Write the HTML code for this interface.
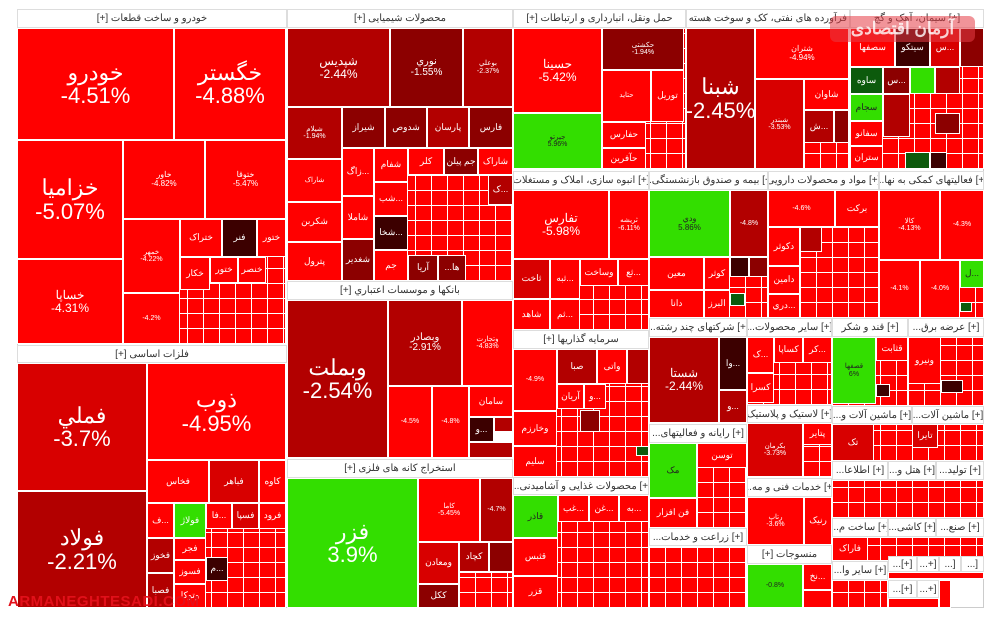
<!DOCTYPE html>
<html><head><meta charset="utf-8">
<style>
html,body{margin:0;padding:0;background:#fff;width:1000px;height:619px;overflow:hidden;position:relative;font-family:"Liberation Sans","Noto Sans CJK SC",sans-serif}
.b{position:absolute;box-sizing:border-box;border:1px solid #fff;overflow:hidden;color:#fff;display:flex;flex-direction:column;align-items:center;justify-content:center;text-align:center;line-height:1.05;background:#f00;font-size:9px;direction:ltr}
.h{position:absolute;box-sizing:border-box;background:#fff;color:#333;font-size:10px;display:flex;align-items:center;justify-content:center;white-space:nowrap;overflow:hidden;border:1px solid #ddd;direction:rtl}
.g{position:absolute;box-sizing:border-box;background-color:#f00;background-image:repeating-linear-gradient(90deg,transparent 0 15px,#fff 15px 16px),repeating-linear-gradient(0deg,transparent 0 14px,#fff 14px 15px);border:1px solid #fff}
.r2{background:#d80000}.r3{background:#b20000}.r4{background:#8c0000}.r5{background:#3c0000}.gr{background:#33de00;color:#222}.dg{background:#0c5a0c}
.L{font-size:22px}.M{font-size:12px}.S{font-size:7px}
</style></head><body>
<div style="position:absolute;left:17px;top:9px;width:967px;height:599px;border:1px solid #ccc;box-sizing:border-box"></div>

<!-- Column 1 -->
<div class="h" style="left:17px;top:9px;width:270px;height:19px">خودرو و ساخت قطعات [+]</div>
<div class="b L" style="left:17px;top:28px;width:157px;height:112px">خودرو<br>-4.51%</div>
<div class="b L" style="left:174px;top:28px;width:112px;height:112px">خگستر<br>-4.88%</div>
<div class="b L" style="left:17px;top:140px;width:106px;height:119px">خزامیا<br>-5.07%</div>
<div class="b M" style="left:17px;top:259px;width:106px;height:85px">خساپا<br>-4.31%</div>
<div class="b S" style="left:123px;top:140px;width:82px;height:79px;font-size:8px">خاور<br>-4.82%</div>
<div class="b S" style="left:205px;top:140px;width:81px;height:79px;font-size:8px">ختوقا<br>-5.47%</div>
<div class="g" style="left:123px;top:219px;width:163px;height:125px"></div>
<div class="b S" style="left:123px;top:219px;width:57px;height:74px">خمهر<br>-4.22%</div>
<div class="b S" style="left:123px;top:293px;width:57px;height:51px">-4.2%</div>
<div class="b" style="left:180px;top:219px;width:42px;height:38px">ختراک</div>
<div class="b r5" style="left:222px;top:219px;width:35px;height:38px">فنر</div>
<div class="b" style="left:257px;top:219px;width:29px;height:38px">ختور</div>
<div class="b" style="left:180px;top:257px;width:30px;height:33px">خکار</div>
<div class="b" style="left:210px;top:257px;width:28px;height:26px">ختور</div>
<div class="b" style="left:238px;top:257px;width:28px;height:26px">خنصر</div>

<div class="h" style="left:17px;top:345px;width:270px;height:18px">فلزات اساسی [+]</div>
<div class="b L r2" style="left:17px;top:363px;width:130px;height:128px">فملي<br>-3.7%</div>
<div class="b L r3" style="left:17px;top:491px;width:130px;height:117px">فولاد<br>-2.21%</div>
<div class="b L" style="left:147px;top:363px;width:139px;height:97px">ذوب<br>-4.95%</div>
<div class="g" style="left:147px;top:460px;width:139px;height:148px"></div>
<div class="b" style="left:147px;top:460px;width:62px;height:43px">فخاس</div>
<div class="b r2" style="left:209px;top:460px;width:50px;height:43px">فباهر</div>
<div class="b" style="left:259px;top:460px;width:27px;height:43px">کاوه</div>
<div class="b" style="left:147px;top:503px;width:27px;height:35px">ف...</div>
<div class="b gr" style="left:174px;top:503px;width:32px;height:35px;color:#fff">فولاژ</div>
<div class="b" style="left:206px;top:503px;width:26px;height:26px">فا...</div>
<div class="b r2" style="left:232px;top:503px;width:27px;height:26px">فسپا</div>
<div class="b" style="left:259px;top:503px;width:27px;height:26px">فرود</div>
<div class="b r3" style="left:147px;top:538px;width:27px;height:35px">فخوز</div>
<div class="b r3" style="left:147px;top:573px;width:27px;height:35px">فصبا</div>
<div class="b" style="left:174px;top:538px;width:32px;height:22px">فجر</div>
<div class="b" style="left:174px;top:560px;width:32px;height:24px">فسوز</div>
<div class="b" style="left:174px;top:584px;width:32px;height:24px">وتوکا</div>
<div class="b r5" style="left:206px;top:557px;width:22px;height:24px">م...</div>

<!-- Column 2 -->
<div class="h" style="left:287px;top:9px;width:226px;height:19px">محصولات شیمیایی [+]</div>
<div class="g" style="left:287px;top:28px;width:226px;height:253px"></div>
<div class="b M r3" style="left:287px;top:28px;width:103px;height:79px">شپدیس<br>-2.44%</div>
<div class="b r4" style="left:390px;top:28px;width:73px;height:79px;font-size:10px">نوري<br>-1.55%</div>
<div class="b S r3" style="left:463px;top:28px;width:50px;height:79px">بوعلي<br>-2.37%</div>
<div class="b S r3" style="left:287px;top:107px;width:55px;height:52px">شیلام<br>-1.94%</div>
<div class="b r4" style="left:342px;top:107px;width:43px;height:41px">شیراز</div>
<div class="b r4" style="left:385px;top:107px;width:42px;height:41px">شدوص</div>
<div class="b r3" style="left:427px;top:107px;width:42px;height:41px">پارسان</div>
<div class="b r4" style="left:469px;top:107px;width:44px;height:41px">فارس</div>
<div class="b S" style="left:287px;top:159px;width:55px;height:43px">شاراک</div>
<div class="b" style="left:287px;top:202px;width:55px;height:40px">شکربن</div>
<div class="b" style="left:287px;top:242px;width:55px;height:39px">پترول</div>
<div class="b" style="left:342px;top:148px;width:32px;height:48px">زاگ...</div>
<div class="b" style="left:342px;top:196px;width:32px;height:43px">شاملا</div>
<div class="b r4" style="left:342px;top:239px;width:32px;height:42px">شغدیر</div>
<div class="b" style="left:374px;top:148px;width:34px;height:34px">شفام</div>
<div class="b" style="left:374px;top:182px;width:34px;height:34px">شب...</div>
<div class="b r5" style="left:374px;top:216px;width:34px;height:34px">شخا...</div>
<div class="b" style="left:374px;top:250px;width:34px;height:31px">جم</div>
<div class="b" style="left:408px;top:148px;width:36px;height:27px">کلر</div>
<div class="b r4" style="left:444px;top:148px;width:34px;height:27px">جم پیلن</div>
<div class="b" style="left:478px;top:148px;width:35px;height:27px">شاراک</div>
<div class="b r4" style="left:408px;top:255px;width:30px;height:26px">آریا</div>
<div class="b r4" style="left:438px;top:255px;width:28px;height:26px">...ها</div>
<div class="b r3" style="left:488px;top:175px;width:25px;height:30px">ک...</div>

<div class="h" style="left:287px;top:281px;width:226px;height:19px">بانکها و موسسات اعتباري [+]</div>
<div class="b L r3" style="left:287px;top:300px;width:101px;height:158px">وبملت<br>-2.54%</div>
<div class="b r3" style="left:388px;top:300px;width:74px;height:86px;font-size:10px">وبصادر<br>-2.91%</div>
<div class="b S" style="left:462px;top:300px;width:51px;height:86px">وتجارت<br>-4.83%</div>
<div class="b S" style="left:388px;top:386px;width:44px;height:72px">-4.5%</div>
<div class="b S" style="left:432px;top:386px;width:37px;height:72px">-4.8%</div>
<div class="b" style="left:469px;top:386px;width:44px;height:31px">سامان</div>
<div class="b r5" style="left:469px;top:417px;width:25px;height:25px">و...</div>
<div class="b r3" style="left:494px;top:417px;width:19px;height:15px"></div>
<div class="b r3" style="left:469px;top:442px;width:44px;height:16px"></div>

<div class="h" style="left:287px;top:459px;width:226px;height:19px">استخراج کانه های فلزی [+]</div>
<div class="b L gr" style="left:287px;top:478px;width:131px;height:130px;color:#fff">فزر<br>3.9%</div>
<div class="b S" style="left:418px;top:478px;width:62px;height:64px">کاما<br>-5.45%</div>
<div class="b S r3" style="left:480px;top:478px;width:33px;height:64px">-4.7%</div>
<div class="b r2" style="left:418px;top:542px;width:41px;height:42px">ومعادن</div>
<div class="b r4" style="left:418px;top:584px;width:41px;height:24px">ککل</div>
<div class="b r3" style="left:459px;top:542px;width:30px;height:30px">کچاد</div>
<div class="b r4" style="left:489px;top:542px;width:24px;height:30px"></div>
<div class="g" style="left:459px;top:572px;width:54px;height:36px"></div>

<!-- Column 3 top -->
<div class="h" style="left:513px;top:9px;width:173px;height:19px">حمل ونقل، انبارداری و ارتباطات [+]</div>
<div class="h" style="left:686px;top:9px;width:164px;height:19px">[+] فرآورده های نفتی، کک و سوخت هسته ا...</div>
<div class="h" style="left:850px;top:9px;width:134px;height:19px">[+] سیمان، آهک و گچ</div>
<div class="b M" style="left:513px;top:28px;width:89px;height:85px">حسينا<br>-5.42%</div>
<div class="b S gr" style="left:513px;top:113px;width:89px;height:56px">جیرتو<br>5.96%</div>
<div class="g" style="left:602px;top:28px;width:84px;height:141px"></div>
<div class="b S r4" style="left:602px;top:28px;width:82px;height:42px">حکشتی<br>-1.94%</div>
<div class="b S" style="left:602px;top:70px;width:49px;height:52px">حتاید</div>
<div class="b" style="left:651px;top:70px;width:33px;height:52px">توریل</div>
<div class="b" style="left:602px;top:122px;width:44px;height:26px">حفارس</div>
<div class="b" style="left:602px;top:148px;width:44px;height:21px">حآفرین</div>
<div class="b L r3" style="left:686px;top:28px;width:69px;height:141px">شبنا<br>-2.45%</div>
<div class="b S" style="left:755px;top:28px;width:94px;height:51px;font-size:8px">شتران<br>-4.94%</div>
<div class="b S r2" style="left:755px;top:79px;width:49px;height:90px">شبندر<br>-3.53%</div>
<div class="g" style="left:804px;top:79px;width:45px;height:90px"></div>
<div class="b" style="left:804px;top:79px;width:45px;height:31px">شاوان</div>
<div class="b r3" style="left:804px;top:110px;width:30px;height:33px">ش...</div>
<div class="b r4" style="left:834px;top:110px;width:15px;height:33px"></div>
<!-- cement -->
<div class="g" style="left:850px;top:28px;width:134px;height:141px"></div>
<div class="b" style="left:850px;top:28px;width:45px;height:39px">سصفها</div>
<div class="b r5" style="left:895px;top:28px;width:35px;height:39px">سیتکو</div>
<div class="b r2" style="left:930px;top:28px;width:30px;height:39px">س...</div>
<div class="b r4" style="left:960px;top:28px;width:24px;height:39px"></div>
<div class="b dg" style="left:850px;top:67px;width:33px;height:27px">ساوه</div>
<div class="b r4" style="left:883px;top:67px;width:27px;height:27px">س...</div>
<div class="b gr" style="left:910px;top:67px;width:25px;height:27px"></div>
<div class="b r3" style="left:935px;top:67px;width:25px;height:27px"></div>
<div class="b gr" style="left:850px;top:94px;width:33px;height:27px;color:#222">سجام</div>
<div class="b r3" style="left:883px;top:94px;width:27px;height:43px"></div>
<div class="b" style="left:850px;top:121px;width:33px;height:25px">سفانو</div>
<div class="b" style="left:850px;top:146px;width:33px;height:23px">ستران</div>
<div class="b r4" style="left:935px;top:113px;width:25px;height:21px"></div>
<div class="b dg" style="left:905px;top:152px;width:25px;height:17px"></div>
<div class="b r5" style="left:930px;top:152px;width:17px;height:17px"></div>

<!-- row 2 -->
<div class="h" style="left:513px;top:171px;width:136px;height:19px">[+] انبوه سازی، املاک و مستغلات</div>
<div class="h" style="left:649px;top:171px;width:119px;height:19px">[+] بیمه و صندوق بازنشستگی...</div>
<div class="h" style="left:768px;top:171px;width:111px;height:19px">[+] مواد و محصولات دارویی</div>
<div class="h" style="left:879px;top:171px;width:105px;height:19px">[+] فعالیتهای کمکی به نها...</div>
<div class="g" style="left:513px;top:190px;width:136px;height:140px"></div>
<div class="b M" style="left:513px;top:190px;width:96px;height:69px">تفارس<br>-5.98%</div>
<div class="b S" style="left:609px;top:190px;width:40px;height:69px">ثریشه<br>-6.11%</div>
<div class="b r2" style="left:513px;top:259px;width:37px;height:40px">ثاخت</div>
<div class="b" style="left:550px;top:259px;width:30px;height:40px">ثبه...</div>
<div class="b" style="left:580px;top:259px;width:38px;height:27px">وساخت</div>
<div class="b" style="left:618px;top:259px;width:31px;height:27px">ثع...</div>
<div class="b" style="left:513px;top:299px;width:37px;height:31px">شاهد</div>
<div class="b" style="left:550px;top:299px;width:30px;height:31px">ثم...</div>
<div class="g" style="left:649px;top:190px;width:119px;height:128px"></div>
<div class="b S gr" style="left:649px;top:190px;width:81px;height:67px;font-size:8px">ودي<br>5.86%</div>
<div class="b S r3" style="left:730px;top:190px;width:38px;height:67px">-4.8%</div>
<div class="b" style="left:649px;top:257px;width:55px;height:33px">معین</div>
<div class="b" style="left:704px;top:257px;width:26px;height:33px">کوثر</div>
<div class="b" style="left:649px;top:290px;width:55px;height:28px">دانا</div>
<div class="b" style="left:704px;top:290px;width:26px;height:28px">البرز</div>
<div class="b r5" style="left:730px;top:257px;width:19px;height:20px"></div>
<div class="b r4" style="left:749px;top:257px;width:19px;height:20px"></div>
<div class="b dg" style="left:730px;top:293px;width:15px;height:13px"></div>
<div class="g" style="left:768px;top:190px;width:111px;height:128px"></div>
<div class="b S" style="left:768px;top:190px;width:67px;height:37px">-4.6%</div>
<div class="b" style="left:835px;top:190px;width:44px;height:37px">برکت</div>
<div class="b" style="left:768px;top:227px;width:32px;height:39px">دکوثر</div>
<div class="b" style="left:768px;top:266px;width:32px;height:28px">دامین</div>
<div class="b" style="left:768px;top:294px;width:32px;height:24px">دري...</div>
<div class="b r3" style="left:800px;top:227px;width:22px;height:25px"></div>
<div class="g" style="left:879px;top:190px;width:105px;height:128px"></div>
<div class="b S" style="left:879px;top:190px;width:61px;height:70px">کالا<br>-4.13%</div>
<div class="b S" style="left:940px;top:190px;width:44px;height:70px">-4.3%</div>
<div class="b S" style="left:879px;top:260px;width:41px;height:58px">-4.1%</div>
<div class="b S" style="left:920px;top:260px;width:40px;height:58px">-4.0%</div>
<div class="b gr" style="left:960px;top:260px;width:24px;height:28px;color:#222">ل...</div>
<div class="b dg" style="left:960px;top:302px;width:12px;height:10px"></div>

<!-- row 3 -->
<div class="h" style="left:513px;top:330px;width:136px;height:19px">سرمایه گذاریها [+]</div>
<div class="g" style="left:513px;top:349px;width:136px;height:128px"></div>
<div class="b S" style="left:513px;top:349px;width:44px;height:62px">-4.9%</div>
<div class="b r3" style="left:557px;top:349px;width:40px;height:35px">صبا</div>
<div class="b" style="left:597px;top:349px;width:30px;height:35px">واتی</div>
<div class="b r3" style="left:627px;top:349px;width:22px;height:35px"></div>
<div class="b" style="left:557px;top:384px;width:27px;height:25px">آریان</div>
<div class="b" style="left:584px;top:384px;width:22px;height:25px">و...</div>
<div class="b" style="left:513px;top:411px;width:44px;height:35px">وخارزم</div>
<div class="b" style="left:513px;top:446px;width:44px;height:31px">سلیم</div>
<div class="b r4" style="left:580px;top:410px;width:20px;height:22px"></div>
<div class="b dg" style="left:636px;top:446px;width:13px;height:10px"></div>
<div class="h" style="left:513px;top:477px;width:136px;height:18px">[+] محصولات غذایی و آشامیدنی...</div>
<div class="g" style="left:513px;top:495px;width:136px;height:113px"></div>
<div class="b gr" style="left:513px;top:495px;width:45px;height:43px">قاذر</div>
<div class="b" style="left:513px;top:538px;width:45px;height:38px">قثبس</div>
<div class="b" style="left:513px;top:576px;width:45px;height:32px">قزر</div>
<div class="b" style="left:558px;top:495px;width:31px;height:27px">غب...</div>
<div class="b" style="left:589px;top:495px;width:30px;height:27px">غن...</div>
<div class="b" style="left:619px;top:495px;width:30px;height:27px">به...</div>

<div class="h" style="left:649px;top:318px;width:98px;height:19px">[+] شرکتهای چند رشته...</div>
<div class="b M r3" style="left:649px;top:337px;width:70px;height:86px">شستا<br>-2.44%</div>
<div class="b r5" style="left:719px;top:337px;width:28px;height:53px">وا...</div>
<div class="b r3" style="left:719px;top:390px;width:28px;height:33px">و...</div>
<div class="h" style="left:649px;top:424px;width:98px;height:19px">[+] رایانه و فعالیتهای...</div>
<div class="g" style="left:649px;top:443px;width:98px;height:85px"></div>
<div class="b gr" style="left:649px;top:443px;width:48px;height:55px">مک</div>
<div class="b" style="left:697px;top:443px;width:50px;height:25px">توسن</div>
<div class="b" style="left:649px;top:498px;width:48px;height:30px">فن افزار</div>
<div class="h" style="left:649px;top:528px;width:98px;height:18px">[+] زراعت و خدمات...</div>
<div class="g" style="left:649px;top:546px;width:98px;height:62px"></div>

<div class="h" style="left:747px;top:318px;width:85px;height:19px">[+] سایر محصولات...</div>
<div class="g" style="left:747px;top:337px;width:85px;height:68px"></div>
<div class="b" style="left:747px;top:337px;width:27px;height:36px">ک...</div>
<div class="b" style="left:774px;top:337px;width:29px;height:26px">کساپا</div>
<div class="b" style="left:803px;top:337px;width:29px;height:26px">کر...</div>
<div class="b" style="left:747px;top:373px;width:27px;height:30px">کسرا</div>
<div class="h" style="left:747px;top:405px;width:85px;height:18px">[+] لاستیک و پلاستیک</div>
<div class="b S r2" style="left:747px;top:423px;width:56px;height:54px">بکرمان<br>-3.73%</div>
<div class="g" style="left:803px;top:423px;width:29px;height:54px"></div>
<div class="b" style="left:803px;top:423px;width:29px;height:22px">پتایر</div>
<div class="h" style="left:747px;top:478px;width:85px;height:19px">[+] خدمات فنی و مه...</div>
<div class="b S" style="left:747px;top:497px;width:57px;height:48px">رتاپ<br>-3.6%</div>
<div class="b" style="left:804px;top:497px;width:28px;height:48px">رنیک</div>
<div class="h" style="left:747px;top:545px;width:85px;height:19px">منسوجات [+]</div>
<div class="b S gr" style="left:747px;top:564px;width:56px;height:44px">-0.8%</div>
<div class="b" style="left:803px;top:564px;width:29px;height:26px">نخ...</div>
<div class="b" style="left:803px;top:590px;width:29px;height:18px"></div>

<div class="h" style="left:832px;top:318px;width:76px;height:19px">[+] قند و شکر</div>
<div class="g" style="left:832px;top:337px;width:76px;height:69px"></div>
<div class="b S gr" style="left:832px;top:337px;width:44px;height:67px">قصفها<br>6%</div>
<div class="b" style="left:876px;top:337px;width:32px;height:24px">قثابت</div>
<div class="b r5" style="left:876px;top:384px;width:14px;height:13px"></div>
<div class="h" style="left:908px;top:318px;width:76px;height:19px">[+] عرضه برق...</div>
<div class="g" style="left:908px;top:337px;width:76px;height:69px"></div>
<div class="b" style="left:908px;top:337px;width:33px;height:47px">ونیرو</div>
<div class="b r5" style="left:941px;top:380px;width:22px;height:13px"></div>
<div class="h" style="left:832px;top:406px;width:80px;height:18px">[+] ماشین آلات و...</div>
<div class="h" style="left:912px;top:406px;width:72px;height:18px">[+] ماشین آلات...</div>
<div class="g" style="left:832px;top:424px;width:152px;height:37px"></div>
<div class="b r2" style="left:832px;top:424px;width:42px;height:37px">تک</div>
<div class="b r2" style="left:912px;top:424px;width:26px;height:24px">تایرا</div>
<div class="h" style="left:832px;top:461px;width:56px;height:19px">[+] اطلاعا...</div>
<div class="h" style="left:888px;top:461px;width:48px;height:19px">[+] هتل و...</div>
<div class="h" style="left:936px;top:461px;width:48px;height:19px">[+] تولید...</div>
<div class="g" style="left:832px;top:480px;width:152px;height:38px"></div>
<div class="h" style="left:832px;top:518px;width:56px;height:19px">[+] ساخت م...</div>
<div class="h" style="left:888px;top:518px;width:48px;height:19px">[+] کاشی...</div>
<div class="h" style="left:936px;top:518px;width:48px;height:19px">[+] صنع...</div>
<div class="g" style="left:832px;top:537px;width:152px;height:24px"></div>
<div class="b" style="left:832px;top:537px;width:36px;height:24px">فاراک</div>
<div class="h" style="left:832px;top:561px;width:56px;height:19px">[+] سایر وا...</div>
<div class="h" style="left:888px;top:556px;width:29px;height:16px">[+]...</div>
<div class="h" style="left:917px;top:556px;width:22px;height:16px">[+...</div>
<div class="h" style="left:939px;top:556px;width:22px;height:16px">[...</div>
<div class="h" style="left:961px;top:556px;width:23px;height:16px">[...</div>
<div class="g" style="left:832px;top:580px;width:56px;height:28px"></div>
<div class="b" style="left:888px;top:572px;width:96px;height:7px"></div>
<div class="h" style="left:888px;top:580px;width:29px;height:18px">[+]...</div>
<div class="h" style="left:917px;top:580px;width:22px;height:18px">[+...</div>
<div class="b" style="left:888px;top:598px;width:51px;height:10px"></div>
<div class="b" style="left:939px;top:580px;width:12px;height:28px"></div>

<!-- watermarks -->
<div style="position:absolute;left:830px;top:16px;width:145px;height:26px;background:rgba(230,60,70,.55);border-radius:6px;color:rgba(255,255,255,.8);font-size:17px;font-weight:bold;display:flex;align-items:center;justify-content:center;direction:rtl">آرمان اقتصادی</div>
<div style="position:absolute;left:8px;top:593px;color:#e2101a;font-size:15px;font-weight:bold;letter-spacing:0.5px;font-family:'Liberation Sans',sans-serif">ARMANEGHTESADI.COM</div>
</body></html>
